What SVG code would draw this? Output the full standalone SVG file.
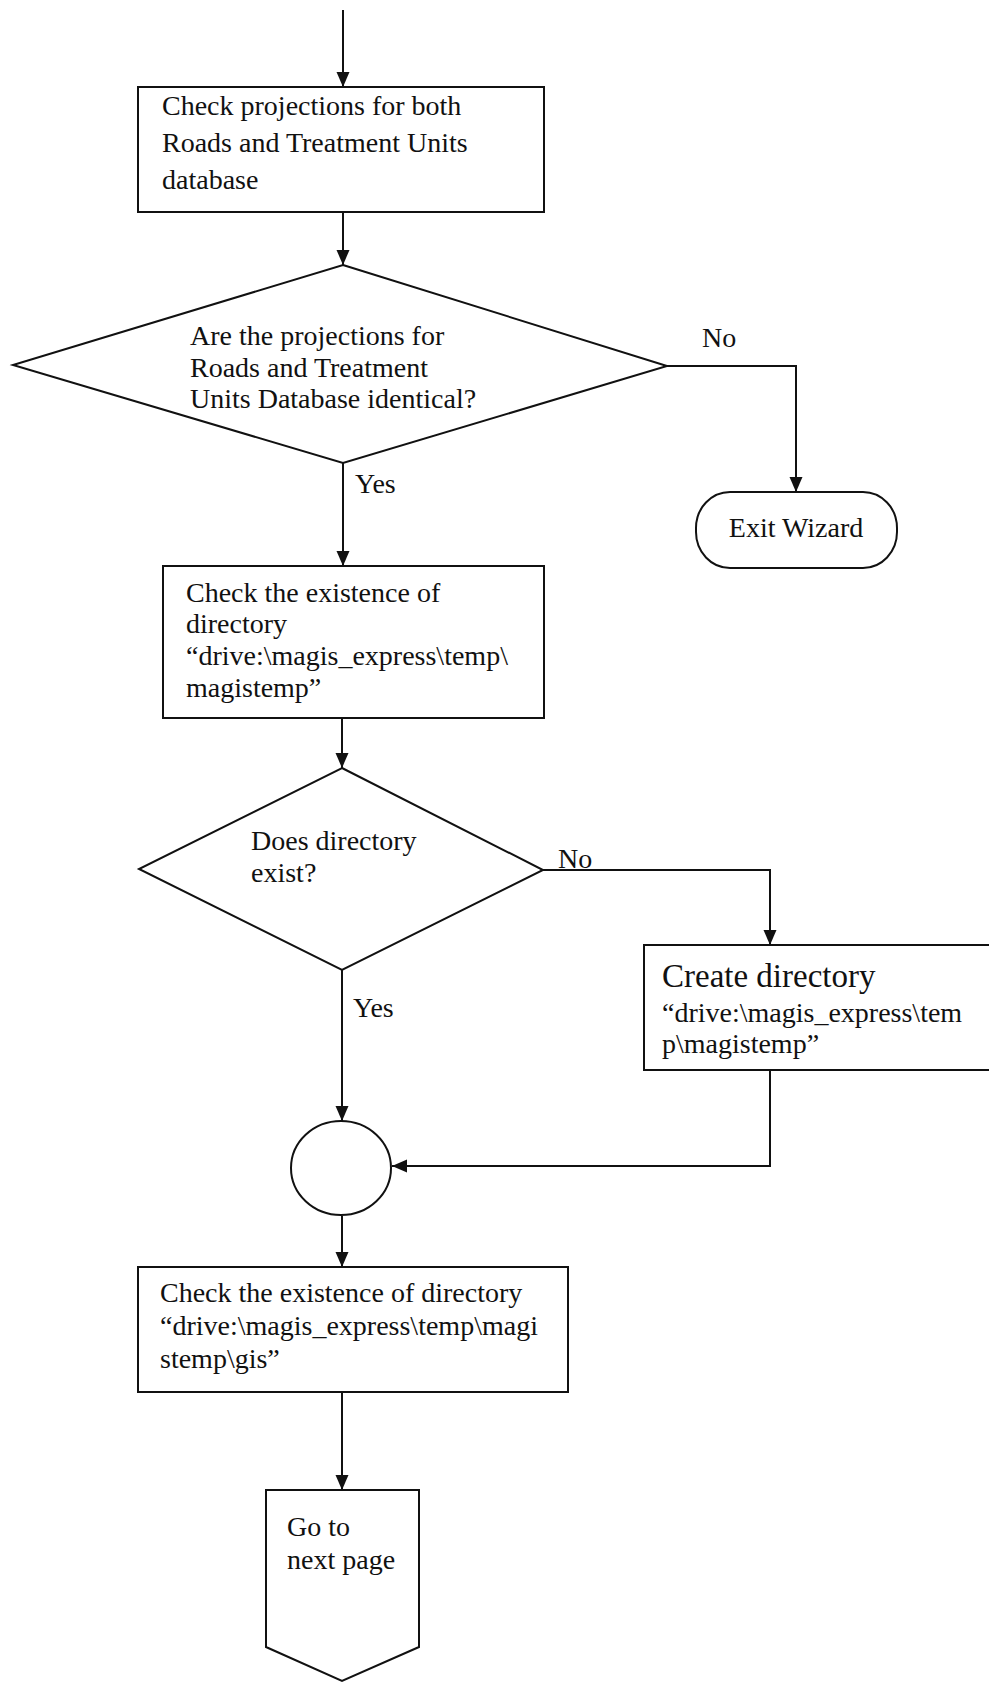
<svg xmlns="http://www.w3.org/2000/svg" width="989" height="1683" viewBox="0 0 989 1683">
  <style>
    .shape { fill: #ffffff; stroke: #111111; stroke-width: 2; }
    .wire { fill: none; stroke: #111111; stroke-width: 2; }
    text { font-family: "Liberation Serif", "Times New Roman", serif; font-size: 28px; fill: #111111; }
    .big { font-size: 33px; }
  </style>
  <defs>
    <marker id="arrow" markerUnits="userSpaceOnUse" markerWidth="16" markerHeight="14" refX="15" refY="6.5" orient="auto">
      <path d="M0,0 L15,6.5 L0,13 z" fill="#111111"/>
    </marker>
  </defs>
  <rect width="989" height="1683" fill="#ffffff"/>

  <!-- connectors -->
  <g id="connectors">
    <path class="wire" d="M343,10 V87" marker-end="url(#arrow)"/>
    <path class="wire" d="M343,212 V265" marker-end="url(#arrow)"/>
    <path class="wire" d="M667,366 H796 V492" marker-end="url(#arrow)"/>
    <path class="wire" d="M343,463 V566" marker-end="url(#arrow)"/>
    <path class="wire" d="M342,718 V768" marker-end="url(#arrow)"/>
    <path class="wire" d="M543,870 H770 V945" marker-end="url(#arrow)"/>
    <path class="wire" d="M342,970 V1121" marker-end="url(#arrow)"/>
    <path class="wire" d="M770,1070 V1166 H392" marker-end="url(#arrow)"/>
    <path class="wire" d="M342,1216 V1267" marker-end="url(#arrow)"/>
    <path class="wire" d="M342,1392 V1490" marker-end="url(#arrow)"/>
    <text x="702" y="347">No</text>
    <text x="355" y="493">Yes</text>
    <text x="558" y="868">No</text>
    <text x="353" y="1017">Yes</text>
  </g>

  <g id="check-projections">
    <rect class="shape" x="138" y="87" width="406" height="125"/>
    <text x="162" y="115">Check projections for both</text>
    <text x="162" y="152">Roads and Treatment Units</text>
    <text x="162" y="189">database</text>
  </g>

  <g id="projections-identical">
    <polygon class="shape" points="343,265 667,366 343,463 13,365"/>
    <text x="190" y="345">Are the projections for</text>
    <text x="190" y="377">Roads and Treatment</text>
    <text x="190" y="408">Units Database identical?</text>
  </g>

  <g id="exit-wizard">
    <rect class="shape" x="696" y="492" width="201" height="76" rx="34" ry="36"/>
    <text x="796" y="537" text-anchor="middle">Exit Wizard</text>
  </g>

  <g id="check-magistemp">
    <rect class="shape" x="163" y="566" width="381" height="152"/>
    <text x="186" y="602">Check the existence of</text>
    <text x="186" y="633">directory</text>
    <text x="186" y="665">“drive:\magis_express\temp\</text>
    <text x="186" y="697">magistemp”</text>
  </g>

  <g id="directory-exists">
    <polygon class="shape" points="342,768 543,870 342,970 139,869"/>
    <text x="251" y="850">Does directory</text>
    <text x="251" y="882">exist?</text>
  </g>

  <g id="create-directory">
    <rect class="shape" x="644" y="945" width="346" height="125"/>
    <text class="big" x="662" y="987">Create directory</text>
    <text x="662" y="1022">“drive:\magis_express\tem</text>
    <text x="662" y="1053">p\magistemp”</text>
  </g>

  <g id="merge">
    <ellipse class="shape" cx="341" cy="1168" rx="50" ry="47"/>
  </g>

  <g id="check-gis">
    <rect class="shape" x="138" y="1267" width="430" height="125"/>
    <text x="160" y="1302">Check the existence of directory</text>
    <text x="160" y="1335">“drive:\magis_express\temp\magi</text>
    <text x="160" y="1368">stemp\gis”</text>
  </g>

  <g id="next-page">
    <polygon class="shape" points="266,1490 419,1490 419,1647 342,1681 266,1647"/>
    <text x="287" y="1536">Go to</text>
    <text x="287" y="1569">next page</text>
  </g>
</svg>
